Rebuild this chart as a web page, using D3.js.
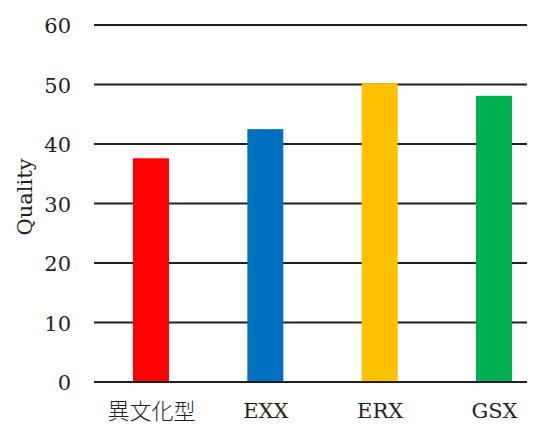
<!DOCTYPE html>
<html>
<head>
<meta charset="utf-8">
<script src="https://cdn.jsdelivr.net/npm/d3@7"></script>
<style>
  html, body { margin: 0; padding: 0; background: #fff; }
  svg { display: block; }
  .tick text, .lbl { font-family: "DejaVu Serif", serif; fill: #231f20; }
</style>
</head>
<body>
<svg id="chart" width="541" height="425"></svg>
<script>
// Quality per method
const categories = ["異文化型", "EXX", "ERX", "GSX"];
const quality = [37.6, 42.5, 50.2, 48.1];
const barColors = ["#ff0000", "#0070c0", "#ffc000", "#00b050"];
const yTicks = [0, 10, 20, 30, 40, 50, 60];

const svg = d3.select("#chart");
const plotLeft = 94, plotRight = 527, plotTop = 25, plotBottom = 382;

const y = d3.scaleLinear().domain([0, 60]).range([plotBottom, plotTop]);
const x = d3.scalePoint().domain(categories).range([151, 494]);
const barWidth = 36;

// horizontal gridlines
svg.append("g")
  .selectAll("line")
  .data(yTicks)
  .join("line")
  .attr("x1", plotLeft)
  .attr("x2", plotRight)
  .attr("y1", d => y(d))
  .attr("y2", d => y(d))
  .attr("stroke", "#231f20")
  .attr("stroke-width", 2);

// bars
svg.append("g")
  .selectAll("rect")
  .data(categories)
  .join("rect")
  .attr("x", d => x(d) - barWidth / 2)
  .attr("width", barWidth)
  .attr("y", (d, i) => y(quality[i]))
  .attr("height", (d, i) => y(0) - y(quality[i]))
  .attr("fill", (d, i) => barColors[i]);

// baseline redrawn on top of bars
svg.append("line")
  .attr("x1", plotLeft).attr("x2", plotRight)
  .attr("y1", y(0)).attr("y2", y(0))
  .attr("stroke", "#231f20").attr("stroke-width", 2);

// y axis labels
const yAxis = d3.axisLeft(y).tickValues(yTicks).tickSize(0).tickPadding(0);
svg.append("g")
  .attr("transform", "translate(71,0)")
  .call(yAxis)
  .call(g => g.select(".domain").remove())
  .selectAll("text")
  .attr("font-size", 21)
  .attr("dy", "0.36em");

// x axis labels
const isCJK = d => /[\u3000-\u9fff]/.test(d);
const xAxis = d3.axisBottom(x).tickSize(0).tickPadding(0);
svg.append("g")
  .attr("transform", "translate(0,403)")
  .call(xAxis)
  .call(g => g.select(".domain").remove())
  .selectAll("text")
  .attr("font-size", d => isCJK(d) ? 22 : 21)
  .attr("dy", "0.71em")
  .style("font-family", d => isCJK(d) ? "'Noto Sans CJK JP', sans-serif" : "'DejaVu Serif', serif")
  .style("font-weight", d => isCJK(d) ? 300 : 400);

// y axis title
svg.append("text")
  .attr("class", "lbl")
  .attr("transform", "translate(24,197) rotate(-90)")
  .attr("text-anchor", "middle")
  .attr("dy", "0.36em")
  .attr("font-size", 21)
  .text("Quality");
</script>
</body>
</html>
